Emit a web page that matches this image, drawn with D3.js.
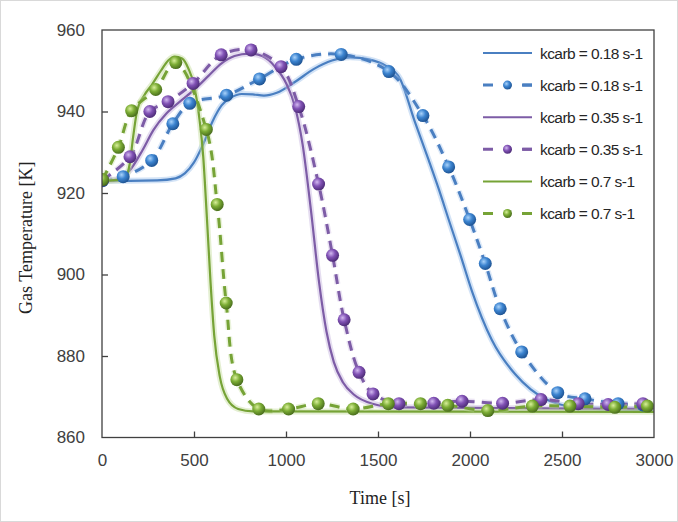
<!DOCTYPE html>
<html>
<head>
<meta charset="utf-8">
<script src="https://cdn.jsdelivr.net/npm/d3@7"></script>
<style>
  html, body { margin: 0; padding: 0; background: #fff; }
  svg { display: block; }
</style>
</head>
<body>
<svg id="chart" width="678" height="522"></svg>
<script>
// ---------------- DATA ----------------
const timeTicks = [0, 500, 1000, 1500, 2000, 2500, 3000];
const tempTicks = [860, 880, 900, 920, 940, 960];

const seriesLabels = ["kcarb = 0.18 s-1", "kcarb = 0.35 s-1", "kcarb = 0.7 s-1"];

// model (solid lines) [time s, temperature K]
const modelBlue = [[0,923],[150,923],[300,923.1],[400,923.6],[450,924.8],[500,927.5],[550,932],[600,937.5],[650,941.5],[700,943.4],[760,944.3],[820,944.2],[880,943.9],[950,944.6],[1050,947.3],[1150,950.4],[1250,952.5],[1350,953.3],[1450,952.8],[1550,951],[1620,948],[1700,937.5],[1776,928],[1830,921],[1884,913.5],[1950,904.5],[2010,896],[2118,884],[2246,875.5],[2330,871.8],[2408,869.5],[2516,867.8],[2650,867.1],[3000,866.8]];
const modelPurple = [[0,923],[80,923.3],[150,925.5],[220,930.5],[280,935.5],[350,939.5],[420,942.3],[500,945.3],[580,948.8],[650,951.8],[720,953.6],[800,954.2],[870,953.6],[940,951],[1000,947],[1050,941],[1090,932],[1135,916],[1180,898],[1220,886],[1260,878.5],[1310,873.5],[1370,870.5],[1470,868.3],[1600,867.4],[3000,867]];
const modelGreen = [[0,923],[100,923.2],[130,924],[150,927],[170,934],[190,940],[230,944],[270,946.5],[320,950],[360,952.5],[395,953.5],[435,953],[470,950.5],[500,946.5],[530,938],[550,929],[570,914],[590,898],[610,885],[640,875],[680,869.5],[740,867],[820,866.4],[3000,866.3]];

// experimental (dashed + markers) [time s, temperature K]
const expBlue = [[3,923],[115,924],[270,928],[385,937],[477,942],[677,944],[856,948],[1056,952.8],[1300,954],[1559,949.8],[1744,939],[1884,926.4],[1998,913.5],[2083,902.7],[2164,891.6],[2281,881],[2477,871],[2625,869.5],[2805,868.3],[2940,868]];
const expPurple = [[3,923.2],[152,928.9],[260,940],[359,942.4],[495,946.9],[648,953.9],[810,955.1],[973,951],[1069,941.2],[1177,922.2],[1253,904.7],[1316,888.9],[1397,876],[1473,870.7],[1614,868.3],[1803,868.4],[1957,868.9],[2177,868.4],[2386,869.3],[2588,868.3],[2751,868.1],[2940,868.3]];
const expGreen = [[3,923.3],[89,931.2],[161,940.2],[292,945.4],[401,952],[567,935.6],[626,917.2],[675,893],[733,874.2],[852,867],[1014,867],[1175,868.3],[1365,867],[1556,868.3],[1731,868.3],[1879,867.9],[2097,866.6],[2339,867.7],[2543,867.7],[2787,867.4],[2964,867.7]];

// ---------------- STYLE ----------------
const colors = [
  {line: "#4a7fc1", glow: "#9dc0ea", hi: "#a9d2fa", mid: "#3c84d0", edge: "#1b4e8c"},
  {line: "#7d5ca6", glow: "#c6b3dd", hi: "#d2b8f0", mid: "#8152b5", edge: "#472770"},
  {line: "#76a336", glow: "#c4dc9c", hi: "#d8ef9a", mid: "#7cad35", edge: "#43661a"}
];
const models = [modelBlue, modelPurple, modelGreen];
const exps = [expBlue, expPurple, expGreen];

const svg = d3.select("#chart");
const W = 678, H = 522;
const mLeft = 102, mRight = 654, mTop = 30, mBottom = 437.5;

svg.append("rect").attr("x", 0.5).attr("y", 0.5).attr("width", W - 1).attr("height", H - 1)
  .attr("fill", "#fff").attr("stroke", "#d9d9d9");

const x = d3.scaleLinear().domain([0, 3000]).range([mLeft, mRight]);
const y = d3.scaleLinear().domain([860, 960]).range([mBottom, mTop]);

// gradients
const defs = svg.append("defs");
colors.forEach((c, i) => {
  const g = defs.append("radialGradient").attr("id", "ball" + i)
    .attr("cx", "0.38").attr("cy", "0.35").attr("r", "0.7");
  g.append("stop").attr("offset", "0%").attr("stop-color", c.hi);
  g.append("stop").attr("offset", "45%").attr("stop-color", c.mid);
  g.append("stop").attr("offset", "100%").attr("stop-color", c.edge);
});
defs.append("clipPath").attr("id", "plotclip").append("rect")
  .attr("x", mLeft).attr("y", mTop - 8).attr("width", mRight - mLeft).attr("height", mBottom - mTop + 8);

const plot = svg.append("g").attr("clip-path", "url(#plotclip)");

const solidLine = d3.line().x(d => x(d[0])).y(d => y(d[1])).curve(d3.curveMonotoneX);
const dashLine = d3.line().x(d => x(d[0])).y(d => y(d[1])).curve(d3.curveCatmullRom.alpha(0.5));

[0, 1, 2].forEach(i => {
  const c = colors[i];
  plot.append("path").datum(models[i]).attr("d", solidLine)
    .attr("fill", "none").attr("stroke", c.glow).attr("stroke-width", 6).attr("stroke-opacity", 0.45);
  plot.append("path").datum(models[i]).attr("d", solidLine)
    .attr("fill", "none").attr("stroke", c.line).attr("stroke-width", 2.2);
  plot.append("path").datum(exps[i]).attr("d", dashLine)
    .attr("fill", "none").attr("stroke", c.glow).attr("stroke-width", 6).attr("stroke-opacity", 0.35)
    .attr("stroke-dasharray", "10,7");
  plot.append("path").datum(exps[i]).attr("d", dashLine)
    .attr("fill", "none").attr("stroke", c.line).attr("stroke-width", 3)
    .attr("stroke-dasharray", "10,7");
});
[0, 1, 2].forEach(i => {
  plot.selectAll(null).data(exps[i]).enter().append("circle")
    .attr("cx", d => x(d[0])).attr("cy", d => y(d[1])).attr("r", 6.5)
    .attr("fill", "url(#ball" + i + ")");
});

// frame
svg.append("rect").attr("x", mLeft).attr("y", mTop).attr("width", mRight - mLeft).attr("height", mBottom - mTop)
  .attr("fill", "none").attr("stroke", "#404040").attr("stroke-width", 1.3);

// axes (ticks inside)
const xAxis = d3.axisBottom(x).tickValues(timeTicks).tickSize(-6).tickPadding(16).tickFormat(d3.format("d"));
const yAxis = d3.axisLeft(y).tickValues(tempTicks).tickSize(-6).tickPadding(17).tickFormat(d3.format("d"));

const gx = svg.append("g").attr("transform", `translate(0,${mBottom})`).call(xAxis);
const gy = svg.append("g").attr("transform", `translate(${mLeft},0)`).call(yAxis);
[gx, gy].forEach(g => {
  g.select(".domain").remove();
  g.selectAll(".tick line").attr("stroke", "#404040").attr("stroke-width", 1.3);
  g.selectAll(".tick text").attr("fill", "#404040")
    .style("font-family", "'Liberation Sans', Arial, sans-serif").style("font-size", "17px");
});
gx.selectAll(".tick").filter(d => d === 0 || d === 3000).select("line").remove();
gy.selectAll(".tick").filter(d => d === 860 || d === 960).select("line").remove();

// axis titles
svg.append("text").attr("x", (mLeft + mRight) / 2 + 2).attr("y", 504).attr("text-anchor", "middle")
  .style("font-family", "'Liberation Serif', 'Times New Roman', serif").style("font-size", "18px")
  .attr("fill", "#222").text("Time [s]");
svg.append("text").attr("transform", `translate(32,${(mTop + mBottom) / 2 + 4}) rotate(-90)`)
  .attr("text-anchor", "middle")
  .style("font-family", "'Liberation Serif', 'Times New Roman', serif").style("font-size", "18px")
  .attr("fill", "#222").text("Gas Temperature [K]");

// legend
const legend = svg.append("g");
const legY0 = 53, legStep = 32.1, lx0 = 483, lx1 = 532, tx = 540;
const legWidths = [103, 103, 95];
[0, 1, 2].forEach(i => {
  const c = colors[i];
  const ys = legY0 + legStep * (2 * i);
  const yd = legY0 + legStep * (2 * i + 1);
  legend.append("line").attr("x1", lx0).attr("x2", lx1).attr("y1", ys).attr("y2", ys)
    .attr("stroke", c.line).attr("stroke-width", 2);
  legend.append("line").attr("x1", lx0).attr("x2", lx1).attr("y1", yd).attr("y2", yd)
    .attr("stroke", c.line).attr("stroke-width", 3).attr("stroke-dasharray", "10,29.5");
  legend.append("line").attr("x1", lx1 - 10).attr("x2", lx1).attr("y1", yd).attr("y2", yd)
    .attr("stroke", c.line).attr("stroke-width", 3);
  legend.append("circle").attr("cx", (lx0 + lx1) / 2).attr("cy", yd).attr("r", 4.5)
    .attr("fill", "url(#ball" + i + ")");
  [ys, yd].forEach(yy => {
    legend.append("text").attr("x", tx).attr("y", yy + 5.5).text(seriesLabels[i])
      .attr("textLength", legWidths[i]).attr("lengthAdjust", "spacing")
      .style("font-family", "'Liberation Sans', Arial, sans-serif").style("font-size", "15.5px").attr("fill", "#262626");
  });
});
</script>
</body>
</html>
